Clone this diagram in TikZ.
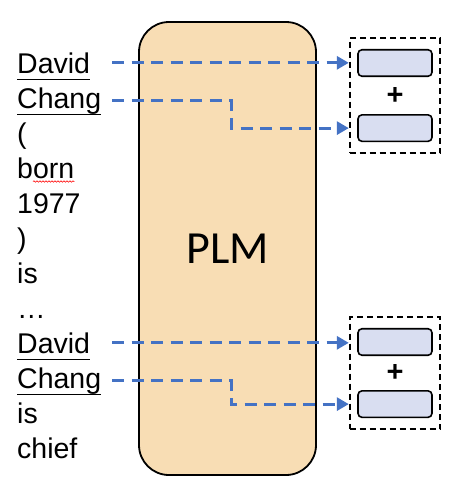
\documentclass[tikz,border=0pt]{standalone}
\usepackage{fontspec}
\setmainfont{Liberation Sans}
\newfontfamily\plmfont{Carlito}
\usepackage{tikz}
\usetikzlibrary{positioning,fit,arrows.meta,decorations.pathmorphing}
\definecolor{plmfill}{HTML}{F8DDB4}
\definecolor{vecfill}{HTML}{D9DEF1}
\definecolor{linkblue}{HTML}{4472C4}

\begin{document}
\begin{tikzpicture}[x=1pt,y=-1pt,
    word/.style={anchor=base west,inner sep=0pt,font=\fontsize{28.5}{30}\selectfont},
    uline/.style={line width=1.8pt},
    spell/.style={red,line width=0.6pt,decorate,decoration={snake,amplitude=0.7pt,segment length=3pt}},
    plm/.style={draw,line width=1.8pt,fill=plmfill,rounded corners=30pt,minimum width=177pt,minimum height=453pt,inner sep=0pt,font=\plmfont\fontsize{46}{50}\selectfont},
    vec/.style={draw,line width=1.6pt,fill=vecfill,rounded corners=4pt,minimum width=74pt,minimum height=26.5pt,inner sep=0pt},
    plus/.style={inner sep=0pt,font=\bfseries\fontsize{29}{30}\selectfont},
    group/.style={draw,line width=1.8pt,dash pattern=on 6pt off 4pt,inner xsep=7.5pt,inner ysep=11pt},
    link/.style={draw=linkblue,line width=3pt,dash pattern=on 12pt off 7.5pt,-{Triangle[length=12pt,width=13pt]}}]
\useasboundingbox (0,0) rectangle (457,491);
%encoder
  \node[plm] (plm) at (227.5,248.5) {PLM};
%tokens
  \foreach \w [count=\i] in {David,Chang,{(},born,1977,{)},is,…,David,Chang,is,chief}
    \node[word] (w\i) at (17,38+35*\i) {\w};
  \foreach \i in {1,2,9,10}
    \draw[uline] ([yshift=-6.5pt]w\i.base west) -- ([yshift=-6.5pt]w\i.base east);
  \draw[spell] ([xshift=16pt,yshift=-3.5pt]w4.base west) -- ([yshift=-3.5pt]w4.base east);
%first pair
  \node[vec] (b1) at (395,63) {};
  \node[vec] (b2) [below=37pt of b1] {};
  \path (b1) -- node[plus] (p1) {+} (b2);
  \node (grp1) [group,fit=(b1) (b2)] {};
%second pair
  \node[vec] (b3) at (395,342) {};
  \node[vec] (b4) [below=34pt of b3] {};
  \path (b3) -- node[plus] (p2) {+} (b4);
  \node (grp2) [group,fit=(b3) (b4)] {};
%links
  \coordinate (src) at (112,0);
  \coordinate (bend) at (231,0);
  \draw[link] (w1.east -| src) -- (w1.east -| grp1.west);
  \draw[link] (w2.east -| src) -- (w2.east -| bend) |- (b2.west -| grp1.west);
  \draw[link] (w9.east -| src) -- (w9.east -| grp2.west);
  \draw[link] (w10.east -| src) -- (w10.east -| bend) |- (b4.west -| grp2.west);
\end{tikzpicture}
\end{document}
